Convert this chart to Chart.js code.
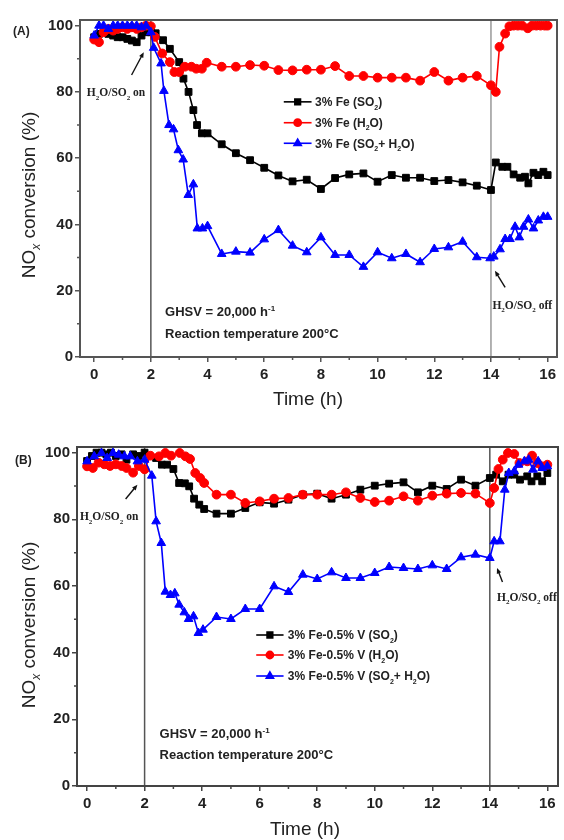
<!DOCTYPE html>
<html>
<head>
<meta charset="utf-8">
<script src="https://cdn.jsdelivr.net/npm/chart.js@4.4.0/dist/chart.umd.min.js"></script>
<style>
  html, body { margin: 0; padding: 0; background: #fff; }
  #wrap { position: relative; width: 564px; height: 840px; }
  canvas { position: absolute; left: 0; }
</style>
</head>
<body>
<div id="wrap">
  <canvas id="chartA" width="564" height="420" style="top:0"></canvas>
  <canvas id="chartB" width="564" height="420" style="top:420px"></canvas>
</div>
<script>
'use strict';

// ---- data ----
const X_MAJOR = [0, 2, 4, 6, 8, 10, 12, 14, 16];
const X_MINOR = [1, 3, 5, 7, 9, 11, 13, 15];
const Y_MAJOR = [0, 20, 40, 60, 80, 100];
const Y_MINOR = [10, 30, 50, 70, 90];
const SWITCH_TIMES = [2, 14];

// (A) 3% Fe
const LABELS_A = ['3% Fe (SO_{2})', '3% Fe (H_{2}O)', '3% Fe (SO_{2}+ H_{2}O)'];
const timeA_SO2 = [0, 0.17, 0.33, 0.5, 0.67, 0.83, 1.0, 1.17, 1.33, 1.5, 1.67, 1.83, 2.0, 2.17, 2.43, 2.67, 3.0, 3.15, 3.33, 3.5, 3.63, 3.8, 4.0, 4.5, 5.0, 5.5, 6.0, 6.5, 7.0, 7.5, 8.0, 8.5, 9.0, 9.5, 10.0, 10.5, 11.0, 11.5, 12.0, 12.5, 13.0, 13.5, 14.0, 14.17, 14.4, 14.58, 14.8, 15.03, 15.2, 15.32, 15.5, 15.67, 15.85, 16.0];
const convA_SO2 = [96.5, 97.5, 98, 97.5, 97, 96.5, 96.5, 96, 95.5, 95, 97, 98, 98, 97.7, 95.6, 93, 89, 84, 80, 74.5, 70, 67.5, 67.5, 64.2, 61.5, 59.4, 57.1, 54.8, 53, 53.5, 50.7, 54, 55.1, 55.4, 52.9, 54.9, 54.1, 54.1, 53.1, 53.4, 52.7, 51.7, 50.4, 58.7, 57.4, 57.4, 55.1, 54.1, 54.4, 52.4, 55.6, 54.9, 55.9, 54.9];
const timeA_H2O = [0, 0.17, 0.33, 0.5, 0.67, 0.83, 1.0, 1.17, 1.33, 1.5, 1.67, 1.83, 2.0, 2.14, 2.4, 2.67, 2.83, 3.0, 3.2, 3.43, 3.6, 3.8, 3.97, 4.5, 5.0, 5.5, 6.0, 6.5, 7.0, 7.5, 8.0, 8.5, 9.0, 9.5, 10.0, 10.5, 11.0, 11.5, 12.0, 12.5, 13.0, 13.5, 14.0, 14.17, 14.3, 14.5, 14.65, 14.8, 14.95, 15.1, 15.3, 15.45, 15.6, 15.75, 15.9, 16.0];
const convA_H2O = [95.8, 95, 98, 99, 98.5, 99, 99.5, 99, 99.5, 99, 99.5, 100, 99.8, 96.6, 91.6, 89, 86, 86, 87.6, 87.6, 87, 87, 88.8, 87.6, 87.6, 88.1, 87.9, 86.6, 86.5, 86.7, 86.7, 87.8, 84.8, 84.8, 84.3, 84.3, 84.3, 83.4, 86, 83.4, 84.3, 84.8, 82, 80, 93.6, 97.6, 99.8, 100, 100, 100, 99.2, 100, 100, 100, 100, 100];
const timeA_MIX = [0, 0.17, 0.33, 0.5, 0.67, 0.83, 1.0, 1.17, 1.33, 1.5, 1.67, 1.83, 2.0, 2.1, 2.36, 2.46, 2.64, 2.8, 2.97, 3.14, 3.32, 3.5, 3.64, 3.82, 4.0, 4.5, 5.0, 5.5, 6.0, 6.5, 7.0, 7.5, 8.0, 8.5, 9.0, 9.5, 10.0, 10.5, 11.0, 11.5, 12.0, 12.5, 13.0, 13.5, 13.97, 14.1, 14.32, 14.5, 14.67, 14.85, 15.0, 15.15, 15.32, 15.5, 15.67, 15.85, 16.0];
const convA_MIX = [97, 100, 100, 99, 100, 100, 100, 100, 100, 100, 99.5, 100, 98, 93.3, 88.6, 80.3, 70, 68.7, 62.4, 59.6, 48.9, 52.1, 38.8, 38.8, 39.5, 31.1, 31.8, 31.5, 35.5, 38.3, 33.6, 31.6, 36.1, 30.8, 30.8, 27.2, 31.6, 29.8, 31.1, 28.6, 32.6, 33.1, 34.8, 30.1, 29.8, 30.3, 32.5, 35.6, 35.6, 39.3, 36.1, 39.3, 41.5, 38.8, 41.2, 42.3, 42.3];

// (B) 3% Fe-0.5% V
const LABELS_B = ['3% Fe-0.5% V (SO_{2})', '3% Fe-0.5% V (H_{2}O)', '3% Fe-0.5% V (SO_{2}+ H_{2}O)'];
const timeB_SO2 = [0, 0.17, 0.33, 0.5, 0.67, 0.83, 1.0, 1.2, 1.37, 1.6, 1.8, 2.0, 2.4, 2.6, 2.78, 3.0, 3.2, 3.4, 3.55, 3.72, 3.9, 4.07, 4.5, 5.0, 5.5, 6.0, 6.5, 7.0, 7.5, 8.0, 8.5, 9.0, 9.5, 10.0, 10.5, 11.0, 11.5, 12.0, 12.5, 13.0, 13.5, 14.0, 14.22, 14.45, 14.65, 14.85, 15.05, 15.3, 15.45, 15.65, 15.82, 16.0];
const convB_SO2 = [97.5, 99, 100, 100, 99.5, 100, 99, 99.5, 97.9, 99.5, 99, 100, 98.4, 96.4, 96.4, 95.1, 90.9, 90.8, 89.9, 86.2, 84.4, 83.1, 81.7, 81.7, 83.4, 85.1, 84.7, 85.9, 87.4, 87.7, 86.2, 87.4, 88.9, 90.1, 90.7, 91.1, 88.1, 90.1, 89.1, 91.9, 90.1, 92.4, 93.4, 91.4, 93.4, 93.4, 91.9, 92.9, 91.4, 92.9, 91.4, 93.9];
const timeB_H2O = [0, 0.2, 0.4, 0.6, 0.8, 1.0, 1.2, 1.37, 1.6, 1.8, 2.0, 2.2, 2.5, 2.72, 2.92, 3.22, 3.42, 3.58, 3.76, 3.93, 4.07, 4.5, 5.0, 5.5, 6.0, 6.5, 7.0, 7.5, 8.0, 8.5, 9.0, 9.5, 10.0, 10.5, 11.0, 11.5, 12.0, 12.5, 13.0, 13.5, 14.0, 14.15, 14.3, 14.45, 14.63, 14.85, 15.03, 15.3, 15.47, 15.65, 15.82, 16.0];
const convB_H2O = [95.9, 95.4, 97, 96.5, 96, 96.5, 96, 95.4, 94, 96, 95, 99.1, 98.9, 99.9, 99.1, 99.9, 98.9, 98.1, 93.9, 92.4, 90.9, 87.4, 87.4, 84.9, 85.4, 86.2, 86.4, 87.4, 87.4, 87.4, 88.1, 86.4, 85.2, 85.6, 86.9, 85.6, 87.1, 87.7, 87.9, 87.7, 84.9, 89.4, 95.1, 97.9, 99.9, 99.6, 96.9, 97.4, 99.1, 96.9, 95.9, 96.4];
const timeB_MIX = [0, 0.25, 0.5, 0.7, 0.9, 1.1, 1.3, 1.5, 1.75, 2.0, 2.25, 2.4, 2.58, 2.72, 2.9, 3.05, 3.2, 3.38, 3.53, 3.7, 3.87, 4.03, 4.5, 5.0, 5.5, 6.0, 6.5, 7.0, 7.5, 8.0, 8.5, 9.0, 9.5, 10.0, 10.5, 11.0, 11.5, 12.0, 12.5, 13.0, 13.5, 14.0, 14.15, 14.35, 14.52, 14.66, 14.85, 15.0, 15.2, 15.35, 15.5, 15.68, 15.82, 16.0];
const convB_MIX = [97.4, 98.9, 99.9, 98.4, 99.9, 99.4, 98.9, 98.9, 97.4, 97.9, 93.1, 79.4, 72.9, 58.3, 57.3, 57.8, 54.4, 52.1, 50.1, 50.9, 45.9, 46.9, 50.7, 50.1, 53.1, 53.1, 59.9, 58.2, 63.4, 62.1, 64.1, 62.4, 62.4, 63.9, 65.7, 65.4, 65.1, 66.2, 65.1, 68.6, 69.4, 68.4, 73.4, 73.4, 88.9, 93.9, 94.4, 96.4, 97.4, 97.9, 94.9, 97.4, 95.4, 95.9];

// ---- styling ----
const SANS = '"Liberation Sans", Arial, sans-serif';
const SERIF = '"Liberation Serif", "Times New Roman", serif';
const INK = '#222';

const SERIES_STYLE = [
  { color: '#000000', pointStyle: 'rect', radius: 4.8, order: 3 },
  { color: '#ff0000', pointStyle: 'circle', radius: 4.4, order: 2 },
  { color: '#0000ff', pointStyle: 'triangle', radius: 5, order: 1 },
];

const zip = (ts, vs) => ts.map((t, i) => ({ x: t, y: vs[i] }));

// text with _{sub} and ^{sup} parts
function parseRich(str) {
  const out = [];
  let buf = '', i = 0;
  while (i < str.length) {
    const c = str[i];
    if ((c === '_' || c === '^') && str[i + 1] === '{') {
      if (buf) { out.push({ t: buf, k: 0 }); buf = ''; }
      const end = str.indexOf('}', i);
      out.push({ t: str.slice(i + 2, end), k: c === '_' ? 1 : -1 });
      i = end + 1;
    } else { buf += c; i++; }
  }
  if (buf) out.push({ t: buf, k: 0 });
  return out;
}

function drawRich(ctx, str, x, y, f, align) {
  const parts = parseRich(str);
  const fontOf = p => {
    const size = p.k ? Math.round(f.size * 0.62) : f.size;
    const style = p.k && f.subItalic ? 'italic ' : '';
    return `${style}${f.weight || 'normal'} ${size}px ${f.family}`;
  };
  let total = 0;
  parts.forEach(p => { ctx.font = fontOf(p); p.w = ctx.measureText(p.t).width; total += p.w; });
  let cx = align === 'center' ? x - total / 2 : (align === 'right' ? x - total : x);
  const base = y + f.size * 0.36;
  ctx.textAlign = 'left';
  ctx.textBaseline = 'alphabetic';
  parts.forEach(p => {
    ctx.font = fontOf(p);
    const dy = p.k === 1 ? f.size * 0.28 : (p.k === -1 ? -f.size * 0.42 : 0);
    ctx.fillText(p.t, cx, base + dy);
    cx += p.w;
  });
}

function drawArrow(ctx, x1, y1, x2, y2) {
  const ang = Math.atan2(y2 - y1, x2 - x1);
  const head = 6;
  ctx.beginPath();
  ctx.moveTo(x1, y1);
  ctx.lineTo(x2 - Math.cos(ang) * 3, y2 - Math.sin(ang) * 3);
  ctx.stroke();
  ctx.beginPath();
  ctx.moveTo(x2, y2);
  ctx.lineTo(x2 - head * Math.cos(ang - 0.4), y2 - head * Math.sin(ang - 0.4));
  ctx.lineTo(x2 - head * Math.cos(ang + 0.4), y2 - head * Math.sin(ang + 0.4));
  ctx.closePath();
  ctx.fill();
}

const decorPlugin = {
  id: 'decor',
  beforeDatasetsDraw(chart, args, opts) {
    const { ctx, chartArea: a, scales: { x } } = chart;
    ctx.save();
    SWITCH_TIMES.forEach((t, i) => {
      const px = x.getPixelForValue(t);
      ctx.strokeStyle = opts.switchColors[i];
      ctx.lineWidth = 1.5;
      ctx.beginPath();
      ctx.moveTo(px, a.top);
      ctx.lineTo(px, a.bottom);
      ctx.stroke();
    });
    ctx.restore();
  },
  afterDraw(chart, args, opts) {
    const { ctx, chartArea: a, scales: { x, y } } = chart;
    ctx.save();

    // frame
    ctx.strokeStyle = opts.frameColor;
    ctx.lineWidth = 2;
    ctx.strokeRect(a.left, a.top, a.right - a.left, a.bottom - a.top);

    // minor ticks
    ctx.lineWidth = 1.5;
    ctx.beginPath();
    X_MINOR.forEach(v => {
      const px = x.getPixelForValue(v);
      ctx.moveTo(px, a.bottom);
      ctx.lineTo(px, a.bottom + 3);
    });
    Y_MINOR.forEach(v => {
      const py = y.getPixelForValue(v);
      ctx.moveTo(a.left, py);
      ctx.lineTo(a.left - 3, py);
    });
    ctx.stroke();

    ctx.fillStyle = INK;
    ctx.strokeStyle = INK;

    // axis titles
    drawRich(ctx, 'Time (h)', opts.xTitle[0], opts.xTitle[1], { size: 19, family: SANS }, 'center');
    ctx.save();
    ctx.translate(opts.yTitle[0], opts.yTitle[1]);
    ctx.rotate(-Math.PI / 2);
    drawRich(ctx, 'NO_{x} conversion (%)', 0, 0, { size: 19, family: SANS, subItalic: true }, 'center');
    ctx.restore();

    // panel tag
    drawRich(ctx, opts.tag, opts.tagPos[0], opts.tagPos[1], { size: 12, weight: 'bold', family: SANS }, 'left');

    // legend
    const lg = opts.legend;
    chart.data.datasets.forEach((ds, i) => {
      const py = y.getPixelForValue(lg.rows[i]);
      const x0 = x.getPixelForValue(lg.line[0]);
      const x1 = x.getPixelForValue(lg.line[1]);
      ctx.strokeStyle = ds.borderColor;
      ctx.fillStyle = ds.backgroundColor;
      ctx.lineWidth = 1.6;
      ctx.beginPath();
      ctx.moveTo(x0, py);
      ctx.lineTo(x1, py);
      ctx.stroke();
      Chart.helpers.drawPoint(ctx, { pointStyle: ds.pointStyle, radius: ds.pointRadius - 0.8, rotation: 0, borderWidth: 1 }, (x0 + x1) / 2, py);
      ctx.fillStyle = INK;
      drawRich(ctx, ds.label, x.getPixelForValue(lg.text), py, { size: 12, weight: 'bold', family: SANS }, 'left');
    });

    // notes in data units
    ctx.fillStyle = INK;
    opts.notes.forEach(n => {
      drawRich(ctx, n.text, x.getPixelForValue(n.at[0]), y.getPixelForValue(n.at[1]), n.font, 'left');
    });
    ctx.strokeStyle = '#111';
    ctx.fillStyle = '#111';
    ctx.lineWidth = 1.4;
    opts.arrows.forEach(ar => {
      drawArrow(ctx,
        x.getPixelForValue(ar.from[0]), y.getPixelForValue(ar.from[1]),
        x.getPixelForValue(ar.to[0]), y.getPixelForValue(ar.to[1]));
    });

    ctx.restore();
  },
};

const NOTE_BOLD = { size: 13, weight: 'bold', family: SANS };
const NOTE_SERIF = { size: 11.5, weight: 'bold', family: SERIF };

function buildPanel(canvas, p) {
  const datasets = p.series.map((s, i) => ({
    label: p.labels[i],
    data: zip(s[0], s[1]),
    borderColor: SERIES_STYLE[i].color,
    backgroundColor: SERIES_STYLE[i].color,
    pointStyle: SERIES_STYLE[i].pointStyle,
    pointRadius: SERIES_STYLE[i].radius,
    pointBorderWidth: 1,
    borderWidth: 1.6,
    tension: 0,
    order: SERIES_STYLE[i].order,
  }));

  const tickFont = { family: SANS, size: 15, weight: 'bold' };

  return new Chart(canvas.getContext('2d'), {
    type: 'line',
    data: { datasets },
    options: {
      responsive: false,
      animation: false,
      events: [],
      layout: { padding: { top: p.pad.top, right: p.pad.right, left: 0, bottom: 0 } },
      scales: {
        x: {
          type: 'linear',
          min: p.xRange[0],
          max: p.xRange[1],
          afterBuildTicks: s => { s.ticks = X_MAJOR.map(v => ({ value: v })); },
          afterFit: s => { s.height = p.xAxisH; s.paddingLeft = 0; s.paddingRight = 0; },
          grid: { drawOnChartArea: false, drawTicks: true, tickLength: 5, color: p.frameColor, lineWidth: 1.5 },
          border: { display: false },
          ticks: { font: tickFont, color: INK, padding: 4, maxRotation: 0, autoSkip: false },
        },
        y: {
          min: 0,
          max: 101.7,
          afterBuildTicks: s => { s.ticks = Y_MAJOR.map(v => ({ value: v })); },
          afterFit: s => { s.width = p.yAxisW; s.paddingTop = 0; s.paddingBottom = 0; },
          grid: { drawOnChartArea: false, drawTicks: true, tickLength: 5, color: p.frameColor, lineWidth: 1.5 },
          border: { display: false },
          ticks: { font: tickFont, color: INK, padding: 2, autoSkip: false },
        },
      },
      plugins: {
        legend: { display: false },
        tooltip: { enabled: false },
        decor: {
          frameColor: p.frameColor,
          switchColors: p.switchColors,
          xTitle: p.xTitle,
          yTitle: p.yTitle,
          tag: p.tag,
          tagPos: p.tagPos,
          legend: p.legend,
          notes: p.notes,
          arrows: p.arrows,
        },
      },
    },
    plugins: [decorPlugin],
  });
}

buildPanel(document.getElementById('chartA'), {
  series: [[timeA_SO2, convA_SO2], [timeA_H2O, convA_H2O], [timeA_MIX, convA_MIX]],
  labels: LABELS_A,
  xRange: [-0.5, 16.33],
  pad: { top: 20, right: 7 },
  yAxisW: 80,
  xAxisH: 63,
  frameColor: '#555',
  switchColors: ['#555', '#999'],
  xTitle: [308, 398],
  yTitle: [28, 195],
  tag: '(A)',
  tagPos: [13, 31],
  legend: { line: [6.69, 7.67], text: 7.79, rows: [77, 70.7, 64.5] },
  notes: [
    { text: 'H_{2}O/SO_{2} on', at: [-0.26, 79.9], font: NOTE_SERIF },
    { text: 'H_{2}O/SO_{2} off', at: [14.05, 15.7], font: NOTE_SERIF },
    { text: 'GHSV = 20,000 h^{-1}', at: [2.5, 13.7], font: NOTE_BOLD },
    { text: 'Reaction temperature 200°C', at: [2.5, 7.1], font: NOTE_BOLD },
  ],
  arrows: [
    { from: [1.32, 85.1], to: [1.75, 92] },
    { from: [14.5, 21], to: [14.14, 26] },
  ],
});

buildPanel(document.getElementById('chartB'), {
  series: [[timeB_SO2, convB_SO2], [timeB_H2O, convB_H2O], [timeB_MIX, convB_MIX]],
  labels: LABELS_B,
  xRange: [-0.35, 16.37],
  pad: { top: 27, right: 5 },
  yAxisW: 77,
  xAxisH: 54,
  frameColor: '#444',
  switchColors: ['#555', '#555'],
  xTitle: [305, 408],
  yTitle: [28, 205],
  tag: '(B)',
  tagPos: [15, 40],
  legend: { line: [5.88, 6.83], text: 6.98, rows: [45.3, 39.3, 33.0] },
  notes: [
    { text: 'H_{2}O/SO_{2} on', at: [-0.25, 80.9], font: NOTE_SERIF },
    { text: 'H_{2}O/SO_{2} off', at: [14.25, 56.8], font: NOTE_SERIF },
    { text: 'GHSV = 20,000 h^{-1}', at: [2.52, 15.8], font: NOTE_BOLD },
    { text: 'Reaction temperature 200°C', at: [2.52, 9.6], font: NOTE_BOLD },
  ],
  arrows: [
    { from: [1.34, 86.1], to: [1.75, 90.4] },
    { from: [14.44, 61.2], to: [14.25, 65.4] },
  ],
});
</script>
</body>
</html>
